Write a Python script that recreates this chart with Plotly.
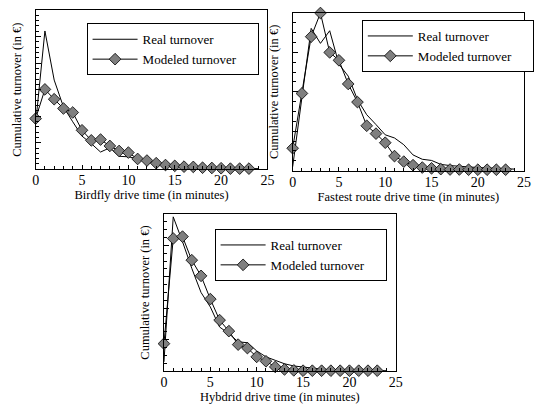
import plotly.graph_objects as go

minutes_real = list(range(0, 25))
minutes_model = list(range(0, 24))

# Birdfly (top-left)
birdfly_real = [17.2, 52.1, 33.6, 23.5, 17.9, 12.5, 9.7, 6.5, 8.1, 4.9, 4.7, 4.0, 3.0, 2.1, 1.4, 1.0,
                0.75, 0.6, 0.5, 0.4, 0.4, 0.25, 0.25, 0.25, 0.25]
birdfly_model = [19.1, 30.1, 26.4, 22.9, 21.4, 14.7, 10.9, 11.2, 8.8, 6.9, 6.3, 3.9, 3.3, 2.3, 1.6, 1.3,
                 1.0, 0.9, 0.6, 0.5, 0.4, 0.25, 0.25, 0.25]

# Fastest route (top-right)
fastest_real = [1.0, 18.0, 36.1, 32.3, 35.5, 27.0, 24.0, 18.0, 14.2, 11.7, 9.1, 8.3, 6.6, 4.0, 2.9, 2.6,
                1.6, 1.3, 1.1, 0.9, 0.8, 0.7, 0.6, 0.5, 0.4]
fastest_model = [5.7, 19.6, 34.0, 40.0, 30.0, 28.0, 22.0, 17.4, 11.4, 9.4, 7.1, 3.7, 2.3, 1.4, 0.8, 0.6,
                 0.4, 0.3, 0.3, 0.25, 0.25, 0.25, 0.25, 0.25]

# Hybrid (bottom)
hybrid_real = [2.9, 49.1, 41.2, 32.7, 25.0, 20.4, 14.0, 11.9, 9.3, 9.0, 6.4, 4.5, 3.4, 2.3, 1.6, 1.2,
               0.85, 0.6, 0.4, 0.3, 0.2, 0.1, 0.1, 0.1, 0.1]
hybrid_model = [8.7, 42.2, 42.8, 35.3, 30.3, 22.9, 16.2, 12.7, 8.4, 7.3, 4.5, 3.1, 1.3, 0.5, 0.2, 0.1,
                0.1, 0.1, 0.1, 0.1, 0.1, 0.1, 0.1, 0.1]

x_titles = ["Birdfly drive time (in minutes)", "Fastest route drive time (in minutes)",
            "Hybdrid drive time (in minutes)"]
y_title = "Cumulative turnover (in €)"
series_names = ["Real turnover", "Modeled turnover"]

W, H = 537, 409
FONT = "Liberation Serif, Times New Roman, serif"
PAD = "\u00a0" * 5  # widens the legend box to match the reference

panels = [
    dict(real=birdfly_real, model=birdfly_model, xt=x_titles[0],
         box=(32.3, 10, 269, 169.3), yr=60, ydt=10, ymin=2, leg=(84.3, 23.3)),
    dict(real=fastest_real, model=fastest_model, xt=x_titles[1],
         box=(294.7, 13, 531, 170.7), yr=40, ydt=10, ymin=2.5, leg=(365.3, 20)),
    dict(real=hybrid_real, model=hybrid_model, xt=x_titles[2],
         box=(163.3, 214, 400, 371), yr=50, ydt=10, ymin=2.5, leg=(215, 229)),
]

fig = go.Figure()
layout = dict(width=W, height=H, margin=dict(l=0, r=0, t=0, b=0),
              paper_bgcolor="white", plot_bgcolor="white",
              font=dict(family=FONT, color="black"))

for i, p in enumerate(panels, start=1):
    sfx = "" if i == 1 else str(i)
    legname = "legend" if i == 1 else f"legend{i}"
    fig.add_trace(go.Scatter(x=minutes_real, y=p["real"], mode="lines", name=series_names[0],
                             line=dict(color="black", width=1), xaxis=f"x{sfx}", yaxis=f"y{sfx}",
                             legend=legname, cliponaxis=False))
    fig.add_trace(go.Scatter(x=minutes_model, y=p["model"], mode="lines+markers", name=series_names[1] + PAD,
                             line=dict(color="black", width=1),
                             marker=dict(symbol="diamond", size=9, color="#7f7f7f",
                                         line=dict(color="black", width=0.8)),
                             xaxis=f"x{sfx}", yaxis=f"y{sfx}", legend=legname, cliponaxis=False))
    x0, y0, x1, y1 = p["box"]
    layout[f"xaxis{sfx}"] = dict(
        domain=[x0 / W, x1 / W], anchor=f"y{sfx}", range=[0, 25], dtick=5, tick0=0,
        ticks="inside", ticklen=4, tickcolor="black", showline=True, linecolor="black", linewidth=1,
        mirror=True, showgrid=False, zeroline=False, ticklabelstandoff=-2,
        tickfont=dict(size=14, family=FONT, color="black"),
        minor=dict(dtick=1, ticks="inside", ticklen=3, tickcolor="black", showgrid=False),
        title=dict(text=p["xt"], font=dict(size=12.5, family=FONT, color="black"), standoff=2),
    )
    layout[f"yaxis{sfx}"] = dict(
        domain=[1 - y1 / H, 1 - y0 / H], anchor=f"x{sfx}", range=[0, p["yr"]], dtick=p["ydt"], tick0=0,
        ticks="inside", ticklen=5, tickcolor="black", showticklabels=False,
        showline=True, linecolor="black", linewidth=1, mirror=True, showgrid=False, zeroline=False,
        minor=dict(dtick=p["ymin"], ticks="inside", ticklen=3, tickcolor="black", showgrid=False),
        title=dict(text=y_title, font=dict(size=12.5, family=FONT, color="black"), standoff=10),
    )
    lx, ly = p["leg"]
    layout[legname] = dict(x=lx / W, y=1 - ly / H, xanchor="left", yanchor="top",
                           bgcolor="white", bordercolor="black", borderwidth=1,
                           font=dict(size=13, family=FONT, color="black"),
                           itemwidth=45, tracegroupgap=0)

fig.update_layout(**layout)
fig.write_html("out.html", config={"displayModeBar": False},
               post_script="document.body.style.margin='0px';")
